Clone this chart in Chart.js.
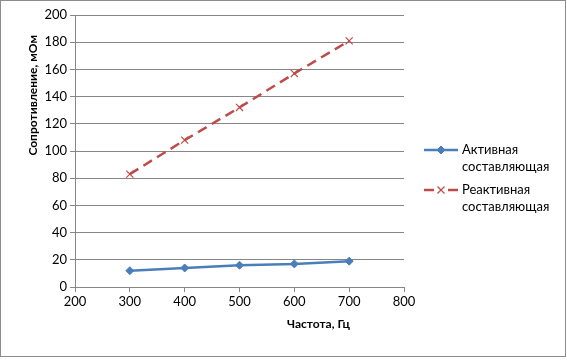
<!DOCTYPE html>
<html>
<head>
<meta charset="utf-8">
<script src="https://cdn.jsdelivr.net/npm/chart.js@4"></script>
<style>
  html, body { margin: 0; padding: 0; background: #fff; }
  #wrap { width: 567px; height: 360px; }
</style>
</head>
<body>
<div id="wrap"><canvas id="chart" width="567" height="360"></canvas></div>
<script>
// data
const frequencies = [300, 400, 500, 600, 700];
const activeValues = [12, 14, 16, 17, 19];
const reactiveValues = [83, 108, 132, 157, 181];
const seriesNames = [['Активная', 'составляющая'], ['Реактивная', 'составляющая']];
const xTitle = 'Частота, Гц';
const yTitle = 'Сопротивление, мОм';

const FONT = 'Lato, "Liberation Sans", sans-serif';
const BLUE = '#4a7ebb';
const RED = '#be4b48';

function toPoints(xs, ys) {
    return xs.map((x, i) => ({ x: x, y: ys[i] }));
}

// border, axis titles and a two-line legend like the Excel one
const extras = {
    id: 'extras',
    afterDraw(chart) {
        const c = chart.ctx;
        c.save();
        c.strokeStyle = '#8c8c8c';
        c.lineWidth = 1;
        c.strokeRect(0.5, 0.5, 565, 356);

        c.fillStyle = '#000';
        c.font = 'bold 12px ' + FONT;
        c.textAlign = 'right';
        c.textBaseline = 'middle';
        c.fillText(xTitle, 350, 324);

        c.save();
        c.translate(33, 35);
        c.rotate(-Math.PI / 2);
        c.textAlign = 'right';
        c.fillText(yTitle, 0, 0);
        c.restore();

        const rows = [150, 190];
        chart.data.datasets.forEach((ds, i) => {
            const y = rows[i];
            c.strokeStyle = ds.borderColor;
            c.lineWidth = ds.borderWidth;
            if (ds.borderDash) {
                c.beginPath();
                c.moveTo(424, y); c.lineTo(434, y);
                c.moveTo(448, y); c.lineTo(458, y);
                c.stroke();
            } else {
                c.beginPath();
                c.moveTo(424, y);
                c.lineTo(458, y);
                c.stroke();
            }
            c.fillStyle = ds.backgroundColor;
            c.lineWidth = ds.pointBorderWidth;
            Chart.helpers.drawPoint(c, {
                pointStyle: ds.pointStyle,
                radius: ds.pointRadius,
                borderWidth: ds.pointBorderWidth,
                rotation: 0
            }, 441, y);
            c.fillStyle = '#000';
            c.font = '13px ' + FONT;
            c.textAlign = 'left';
            seriesNames[i].forEach((line, k) => c.fillText(line, 462, y + k * 17));
        });
        c.restore();
    }
};

new Chart(document.getElementById('chart'), {
    type: 'scatter',
    data: {
        datasets: [{
            label: seriesNames[0].join(' '),
            data: toPoints(frequencies, activeValues),
            showLine: true,
            borderColor: BLUE,
            backgroundColor: BLUE,
            borderWidth: 2.5,
            pointStyle: 'rectRot',
            pointRadius: 4,
            pointBorderWidth: 1
        }, {
            label: seriesNames[1].join(' '),
            data: toPoints(frequencies, reactiveValues),
            showLine: true,
            borderColor: RED,
            backgroundColor: RED,
            borderWidth: 2.5,
            borderDash: [10, 6],
            pointStyle: 'crossRot',
            pointRadius: 5,
            pointBorderWidth: 1.2
        }]
    },
    options: {
        responsive: false,
        animation: false,
        layout: { padding: { left: 0, top: 15, right: 163, bottom: 0 } },
        plugins: {
            legend: { display: false },
            tooltip: { enabled: false }
        },
        scales: {
            x: {
                type: 'linear',
                min: 200, max: 800,
                ticks: { stepSize: 100, color: '#000', font: { family: FONT, size: 13 }, padding: 2, maxRotation: 0 },
                grid: { drawOnChartArea: false, color: '#868686', tickLength: 5 },
                border: { color: '#868686' },
                afterFit(scale) { scale.height = 73; }
            },
            y: {
                min: 0, max: 200,
                ticks: { stepSize: 20, color: '#000', font: { family: FONT, size: 13 }, padding: 3 },
                grid: { color: '#868686', tickLength: 5 },
                border: { color: '#868686' },
                afterFit(scale) { scale.width = 75; }
            }
        }
    },
    plugins: [extras]
});
</script>
</body>
</html>
